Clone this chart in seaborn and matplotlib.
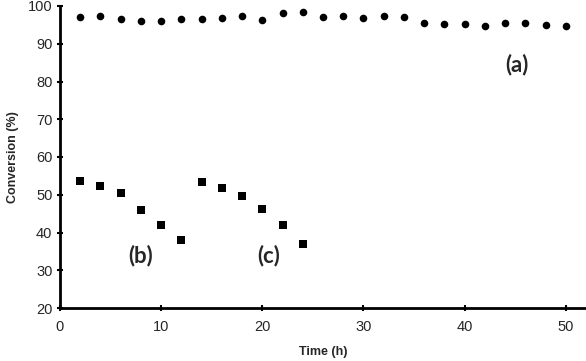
import seaborn as sns, matplotlib.pyplot as plt, pandas as pd

time_a = [2, 4, 6, 8, 10, 12, 14, 16, 18, 20, 22, 24, 26, 28, 30, 32, 34, 36, 38, 40, 42, 44, 46, 48, 50]
conv_a = [97.2, 97.4, 96.5, 96.0, 96.0, 96.5, 96.6, 96.9, 97.4, 96.4, 98.1, 98.3, 97.0, 97.4, 96.7, 97.4,
          97.2, 95.6, 95.3, 95.1, 94.7, 95.6, 95.4, 94.9, 94.7]
time_b = [2, 4, 6, 8, 10, 12]
conv_b = [53.7, 52.3, 50.4, 46.0, 42.1, 38.1]
time_c = [14, 16, 18, 20, 22, 24]
conv_c = [53.4, 51.9, 49.8, 46.2, 42.0, 36.9]
labels = ["(a)", "(b)", "(c)"]
label_pos = [(45.2, 84.5), (8.0, 33.8), (20.6, 33.8)]

sns.set_style("ticks")
plt.rcParams['font.family'] = ['Liberation Sans', 'DejaVu Sans']

fig = plt.figure(figsize=(5.86, 3.61), dpi=100)
ax = fig.add_axes([60/586, 53/361, 526/586, 302/361])

df_a = pd.DataFrame({"t": time_a, "c": conv_a})
df_bc = pd.DataFrame({"t": time_b + time_c, "c": conv_b + conv_c})
sns.scatterplot(data=df_a, x="t", y="c", marker="o", s=30, color="black", linewidth=0, ax=ax)
sns.scatterplot(data=df_bc, x="t", y="c", marker="s", s=30, color="black", linewidth=0, ax=ax)

for lab, (x, y) in zip(labels, label_pos):
    ax.text(x, y, lab, fontsize=16, fontweight="bold", family=["Lato", "DejaVu Sans"], ha="center", va="center")

ax.set_xlim(0, 52)
ax.set_ylim(20, 100)
ax.set_xticks([0, 10, 20, 30, 40, 50])
ax.set_yticks(range(20, 101, 10))
ax.set_xlabel("Time (h)", fontsize=9, fontweight="bold", labelpad=9)
ax.set_ylabel("Conversion (%)", fontsize=9, fontweight="bold", labelpad=6)
ax.tick_params(axis="both", labelsize=10.5, width=1.5, length=5, direction="inout", color="black", pad=3)
ax.tick_params(axis="x", pad=6)
for s in ["left", "bottom"]:
    ax.spines[s].set_linewidth(2)
    ax.spines[s].set_color("black")
sns.despine(ax=ax)

fig.savefig("out.png", dpi=100)
